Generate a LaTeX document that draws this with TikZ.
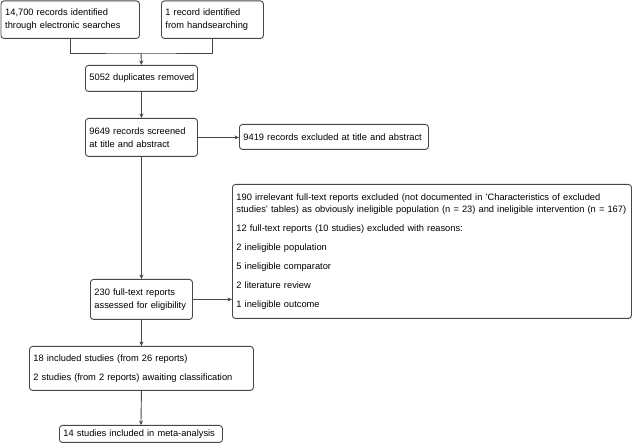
\documentclass[tikz,border=0pt]{standalone}
\usepackage{fontspec}
\setmainfont{Liberation Sans}
\usetikzlibrary{arrows.meta}
\newcommand\Lx[1]{\mbox{#1}}
\begin{document}
\begin{tikzpicture}[x=1pt,y=-1pt,
  font=\fontsize{9.3}{12.5}\selectfont,
  box/.style={draw=black!72, line width=0.9pt, rounded corners=3pt, fill=white,
    anchor=north west, align=left, inner xsep=4pt, inner ysep=0pt},
  conn/.style={draw=black!72, line width=0.9pt},
  arr/.style={conn, -{Stealth[length=4.5pt,width=4pt]}}]
\useasboundingbox (0,0) rectangle (632,443);
% boxes
\node[box, minimum width=138.5pt, minimum height=37.5pt, text width=130pt] (b1) at (0.5,0.5)
  {\Lx{14,700 records identified}\\\Lx{through electronic searches}};
\node[box, minimum width=102pt, minimum height=37.5pt, text width=94pt] (b2) at (161,0.5)
  {\Lx{1 record identified}\\\Lx{from handsearching}};
\node[box, minimum width=112pt, minimum height=26pt, text width=104pt] (b3) at (85,65)
  {\Lx{5052 duplicates removed}};
\node[box, minimum width=112pt, minimum height=38pt, text width=104pt] (b4) at (85,118)
  {\Lx{9649 records screened}\\\Lx{at title and abstract}};
\node[box, minimum width=189pt, minimum height=25pt, text width=181pt] (b5) at (239,124)
  {\Lx{9419 records excluded at title and abstract}};
\node[box, minimum width=102pt, minimum height=40pt, text width=94pt] (b6) at (90,279)
  {\Lx{230 full-text reports}\\\Lx{assessed for eligibility}};
\node[box, minimum width=399pt, minimum height=134pt, text width=391pt] (b7) at (232,184)
  {\Lx{190 irrelevant full-text reports excluded (not documented in 'Characteristics of excluded}\\
   \Lx{studies' tables) as obviously ineligible population (n = 23) and ineligible intervention (n = 167)}\\[6.5pt]
   \Lx{12 full-text reports (10 studies) excluded with reasons:}\\[6.5pt]
   \Lx{2 ineligible population}\\[6.5pt]
   \Lx{5 ineligible comparator}\\[6.5pt]
   \Lx{2 literature review}\\[6.5pt]
   \Lx{1 ineligible outcome}};
\node[box, minimum width=224pt, minimum height=44pt, text width=216pt] (b8) at (29,346)
  {\Lx{18 included studies (from 26 reports)}\\[6.5pt]
   \Lx{2 studies (from 2 reports) awaiting classification}};
\node[box, minimum width=163pt, minimum height=17pt, text width=155pt] (b9) at (59,425)
  {\Lx{14 studies included in meta-analysis}};
% connectors
\coordinate (join) at (141,53);
\draw[conn] (b1.south) |- (join) -| (b2.south);
\draw[arr] (join) -- (b3.north);
\draw[arr] (b3.south) -- (b4.north);
\draw[arr] (b4.east) -- (b4.east -| b5.west);
\draw[arr] (b4.south) -- (b6.north);
\draw[arr] (b6.east) -- (b6.east -| b7.west);
\draw[arr] (b6.south) -- (b8.north);
\draw[arr] (b8.south) -- (b9.north);
\end{tikzpicture}
\end{document}
